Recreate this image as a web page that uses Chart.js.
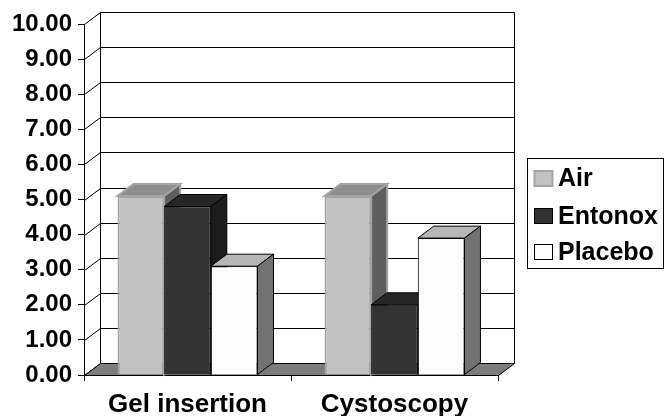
<!DOCTYPE html>
<html>
<head>
<meta charset="utf-8">
<script src="https://cdn.jsdelivr.net/npm/chart.js@4/dist/chart.umd.min.js"></script>
<style>
  html, body { margin: 0; padding: 0; background: #ffffff; }
  #wrap { width: 666px; height: 416px; position: relative; }
</style>
</head>
<body>
<div id="wrap"><canvas id="chart" width="666" height="416"></canvas></div>
<script>
// Mean scores per procedure
const categories = ['Gel insertion', 'Cystoscopy'];
const seriesNames = ['Air', 'Entonox', 'Placebo'];
const airValues = [5.1, 5.1];
const entonoxValues = [4.8, 2.0];
const placeboValues = [3.1, 3.9];
const yMin = 0, yMax = 10, yStep = 1;

// Face colours for each series: front, top, side
const faceColors = [
  { front: '#c2c2c2', top: '#8e8e8e', side: '#5e5e5e', edge: '#a4a4a4' },
  { front: '#333333', top: '#262626', side: '#1c1c1c', edge: '#000000' },
  { front: '#fcfcfc', top: '#b6b6b6', side: '#727272', edge: '#000000' }
];

// Oblique depth of the 3D box
const DX = 16, DY = -12;

const FONT = '"Liberation Sans", Arial, Helvetica, sans-serif';

function poly(ctx, pts, fill, stroke, lw) {
  ctx.beginPath();
  ctx.moveTo(pts[0][0], pts[0][1]);
  for (let i = 1; i < pts.length; i++) ctx.lineTo(pts[i][0], pts[i][1]);
  ctx.closePath();
  if (fill) { ctx.fillStyle = fill; ctx.fill(); }
  if (stroke) { ctx.strokeStyle = stroke; ctx.lineWidth = lw || 1; ctx.stroke(); }
}

const box3d = {
  id: 'box3d',
  beforeDraw(chart) {
    const ctx = chart.ctx;
    const a = chart.chartArea;
    const ys = chart.scales.y;
    ctx.save();
    ctx.lineWidth = 1;
    ctx.strokeStyle = '#000';
    const L = Math.round(a.left) + 0.5, R = Math.round(a.right) + 0.5;
    const top = ys.getPixelForValue(yMax), bot = ys.getPixelForValue(yMin);
    // back wall and left wall grid
    for (let v = yMin; v <= yMax; v += yStep) {
      const yf = Math.round(ys.getPixelForValue(v)) + 0.5;
      ctx.beginPath();
      ctx.moveTo(L, yf);
      ctx.lineTo(L + DX, yf + DY);
      ctx.lineTo(R + DX, yf + DY);
      ctx.stroke();
    }
    // back wall vertical edges
    ctx.beginPath();
    ctx.moveTo(L + DX, Math.round(top) + 0.5 + DY);
    ctx.lineTo(L + DX, Math.round(bot) + 0.5 + DY);
    ctx.moveTo(R + DX, Math.round(top) + 0.5 + DY);
    ctx.lineTo(R + DX, Math.round(bot) + 0.5 + DY);
    ctx.stroke();
    // floor
    const fb = Math.round(bot) + 0.5;
    poly(ctx, [[L, fb], [R, fb], [R + DX, fb + DY], [L + DX, fb + DY]], '#7c7c7c', '#000', 1);
    ctx.restore();
  },
  beforeDatasetsDraw(chart) {
    const ctx = chart.ctx;
    ctx.save();
    chart.data.datasets.forEach((ds, i) => {
      const meta = chart.getDatasetMeta(i);
      const c = faceColors[i];
      meta.data.forEach(bar => {
        const p = bar.getProps(['x', 'y', 'base', 'width'], true);
        const l = p.x - p.width / 2, r = p.x + p.width / 2;
        const t = p.y, b = p.base;
        // top face
        poly(ctx, [[l, t], [l + DX, t + DY], [r + DX, t + DY], [r, t]], c.top, c.edge, i === 0 ? 2 : 1);
        // right side face
        poly(ctx, [[r, t], [r + DX, t + DY], [r + DX, b + DY], [r, b]], c.side, c.edge, i === 0 ? 2 : 1);
      });
    });
    ctx.restore();
  },
  afterDraw(chart) {
    // legend box
    const ctx = chart.ctx;
    ctx.save();
    const bx = 527.5, by = 158.5, bw = 136, bh = 110;
    ctx.strokeStyle = '#000';
    ctx.lineWidth = 1;
    ctx.strokeRect(bx, by, bw, bh);
    const rows = [178.5, 216, 252];
    ctx.font = 'bold 25px ' + FONT;
    ctx.textBaseline = 'middle';
    ctx.textAlign = 'left';
    chart.data.datasets.forEach((ds, i) => {
      const cy = rows[i];
      const c = faceColors[i];
      ctx.fillStyle = c.front;
      ctx.fillRect(534, cy - 8, 19, 16);
      ctx.strokeStyle = c.edge;
      ctx.lineWidth = i === 0 ? 2 : 1;
      ctx.strokeRect(534.5, cy - 7.5, 18, 15);
      ctx.fillStyle = '#000';
      ctx.fillText(ds.label, 558, cy + 1);
    });
    ctx.restore();
  }
};

const valuesBySeries = [airValues, entonoxValues, placeboValues];

new Chart(document.getElementById('chart'), {
  type: 'bar',
  data: {
    labels: categories,
    datasets: seriesNames.map((name, i) => ({
      label: name,
      data: valuesBySeries[i],
      backgroundColor: faceColors[i].front,
      borderColor: faceColors[i].edge,
      borderWidth: i === 0 ? 2 : 1,
      categoryPercentage: 0.676,
      barPercentage: 1.0
    }))
  },
  options: {
    responsive: false,
    animation: false,
    devicePixelRatio: 1,
    layout: { padding: { left: 0, top: 24, right: 168, bottom: 0 } },
    plugins: {
      legend: { display: false },
      tooltip: { enabled: false }
    },
    scales: {
      x: {
        grid: { drawOnChartArea: false, drawTicks: true, tickLength: 6, color: '#000', offset: true },
        border: { display: true, color: '#000', width: 1 },
        ticks: { color: '#000', padding: 8, font: { family: FONT, size: 26, weight: 'bold' }, maxRotation: 0 },
        afterFit(s) { s.height = 41; }
      },
      y: {
        min: yMin, max: yMax,
        grid: { drawOnChartArea: false, drawTicks: true, tickLength: 6, color: '#000' },
        border: { display: true, color: '#000', width: 1 },
        ticks: {
          stepSize: yStep, color: '#000', padding: 6,
          font: { family: FONT, size: 24, weight: 'bold' },
          callback: v => Number(v).toFixed(2)
        },
        afterFit(s) { s.width = 84; }
      }
    }
  },
  plugins: [box3d]
});
</script>
</body>
</html>
